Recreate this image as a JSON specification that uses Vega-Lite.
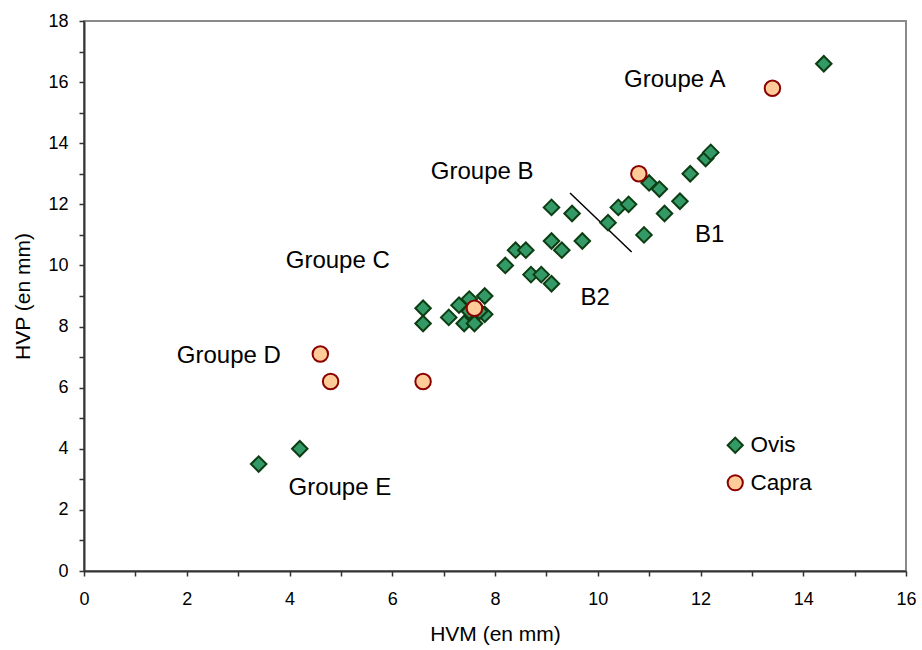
{
  "$schema": "https://vega.github.io/schema/vega-lite/v6.json",
  "width": 822,
  "height": 550,
  "autosize": "none",
  "padding": {"left": 84, "top": 21, "right": 16, "bottom": 79},
  "background": "white",
  "config": {
    "view": {"stroke": "#8a8a8a", "strokeWidth": 2},
    "font": "Liberation Sans"
  },
  "datasets": {
    "points": [
      {"species": "Ovis", "hvm": 3.4, "hvp": 3.5},
      {"species": "Ovis", "hvm": 4.2, "hvp": 4.0},
      {"species": "Ovis", "hvm": 6.6, "hvp": 8.6},
      {"species": "Ovis", "hvm": 6.6, "hvp": 8.1},
      {"species": "Ovis", "hvm": 7.1, "hvp": 8.3},
      {"species": "Ovis", "hvm": 7.3, "hvp": 8.7},
      {"species": "Ovis", "hvm": 7.5, "hvp": 8.9},
      {"species": "Ovis", "hvm": 7.8, "hvp": 9.0},
      {"species": "Ovis", "hvm": 7.4, "hvp": 8.1},
      {"species": "Ovis", "hvm": 7.6, "hvp": 8.1},
      {"species": "Ovis", "hvm": 7.8, "hvp": 8.4},
      {"species": "Ovis", "hvm": 7.5, "hvp": 8.5},
      {"species": "Ovis", "hvm": 7.7, "hvp": 8.5},
      {"species": "Ovis", "hvm": 8.2, "hvp": 10.0},
      {"species": "Ovis", "hvm": 8.4, "hvp": 10.5},
      {"species": "Ovis", "hvm": 8.6, "hvp": 10.5},
      {"species": "Ovis", "hvm": 8.7, "hvp": 9.7},
      {"species": "Ovis", "hvm": 8.9, "hvp": 9.7},
      {"species": "Ovis", "hvm": 9.1, "hvp": 9.4},
      {"species": "Ovis", "hvm": 9.1, "hvp": 10.8},
      {"species": "Ovis", "hvm": 9.3, "hvp": 10.5},
      {"species": "Ovis", "hvm": 9.7, "hvp": 10.8},
      {"species": "Ovis", "hvm": 9.1, "hvp": 11.9},
      {"species": "Ovis", "hvm": 9.5, "hvp": 11.7},
      {"species": "Ovis", "hvm": 10.2, "hvp": 11.4},
      {"species": "Ovis", "hvm": 10.4, "hvp": 11.9},
      {"species": "Ovis", "hvm": 10.6, "hvp": 12.0},
      {"species": "Ovis", "hvm": 10.9, "hvp": 11.0},
      {"species": "Ovis", "hvm": 11.0, "hvp": 12.7},
      {"species": "Ovis", "hvm": 11.2, "hvp": 12.5},
      {"species": "Ovis", "hvm": 11.3, "hvp": 11.7},
      {"species": "Ovis", "hvm": 11.6, "hvp": 12.1},
      {"species": "Ovis", "hvm": 11.8, "hvp": 13.0},
      {"species": "Ovis", "hvm": 12.1, "hvp": 13.5},
      {"species": "Ovis", "hvm": 12.2, "hvp": 13.7},
      {"species": "Ovis", "hvm": 14.4, "hvp": 16.6},
      {"species": "Capra", "hvm": 4.6, "hvp": 7.1},
      {"species": "Capra", "hvm": 4.8, "hvp": 6.2},
      {"species": "Capra", "hvm": 6.6, "hvp": 6.2},
      {"species": "Capra", "hvm": 7.6, "hvp": 8.6},
      {"species": "Capra", "hvm": 10.8, "hvp": 13.0},
      {"species": "Capra", "hvm": 13.4, "hvp": 15.8}
    ],
    "divider": [
      {"hvm": 9.46, "hvp": 12.37},
      {"hvm": 10.66, "hvp": 10.44}
    ],
    "labels": [
      {"text": "Groupe A", "hvm": 11.5, "hvp": 15.84},
      {"text": "Groupe B", "hvm": 7.75, "hvp": 12.83},
      {"text": "Groupe C", "hvm": 4.94, "hvp": 9.92},
      {"text": "Groupe D", "hvm": 2.82, "hvp": 6.81},
      {"text": "Groupe E", "hvm": 4.98, "hvp": 2.49},
      {"text": "B1", "hvm": 12.18, "hvp": 10.77},
      {"text": "B2", "hvm": 9.95, "hvp": 8.71}
    ]
  },
  "encoding": {
    "x": {
      "field": "hvm",
      "type": "quantitative",
      "scale": {"domain": [0, 16], "nice": false, "zero": false},
      "axis": {
        "title": "HVM (en mm)",
        "values": [0, 1, 2, 3, 4, 5, 6, 7, 8, 9, 10, 11, 12, 13, 14, 15, 16],
        "labelExpr": "datum.value % 2 ? '' : datum.label",
        "grid": false,
        "domainColor": "#333333",
        "domainWidth": 2,
        "tickColor": "#333333",
        "tickWidth": 1.5,
        "tickSize": 5,
        "labelFontSize": 18,
        "labelPadding": 14,
        "labelColor": "black",
        "labelOverlap": false,
        "labelFlush": false,
        "titleFontSize": 21,
        "titleFontWeight": "normal",
        "titleColor": "black",
        "titlePadding": 15
      }
    },
    "y": {
      "field": "hvp",
      "type": "quantitative",
      "scale": {"domain": [0, 18], "nice": false, "zero": false},
      "axis": {
        "title": "HVP (en mm)",
        "values": [0, 1, 2, 3, 4, 5, 6, 7, 8, 9, 10, 11, 12, 13, 14, 15, 16, 17, 18],
        "labelExpr": "datum.value % 2 ? '' : datum.label",
        "grid": false,
        "domainColor": "#333333",
        "domainWidth": 2,
        "tickColor": "#333333",
        "tickWidth": 1.5,
        "tickSize": 5,
        "labelFontSize": 18,
        "labelPadding": 11,
        "labelColor": "black",
        "labelOverlap": false,
        "labelFlush": false,
        "titleFontSize": 21,
        "titleFontWeight": "normal",
        "titleColor": "black",
        "titlePadding": 14
      }
    }
  },
  "layer": [
    {
      "data": {"name": "divider"},
      "mark": {"type": "line", "color": "black", "strokeWidth": 1.5},
      "encoding": {}
    },
    {
      "data": {"name": "points"},
      "mark": {"type": "point", "filled": true, "opacity": 1, "strokeWidth": 2, "size": 240},
      "encoding": {
        "fill": {
          "field": "species", "type": "nominal",
          "scale": {"domain": ["Ovis", "Capra"], "range": ["#339966", "#ffcc99"]},
          "legend": {"title": null, "orient": "none", "legendX": 640, "legendY": 413, "labelFontSize": 22.5, "labelColor": "black", "symbolSize": 230, "symbolStrokeWidth": 2, "rowPadding": 13.5, "labelOffset": 4, "padding": 0, "symbolOpacity": 1}
        },
        "stroke": {
          "field": "species", "type": "nominal",
          "scale": {"domain": ["Ovis", "Capra"], "range": ["#0d3d12", "#8b0000"]},
          "legend": {"title": null, "orient": "none", "legendX": 640, "legendY": 413, "labelFontSize": 22.5, "labelColor": "black", "symbolSize": 230, "symbolStrokeWidth": 2, "rowPadding": 13.5, "labelOffset": 4, "padding": 0, "symbolOpacity": 1}
        },
        "shape": {
          "field": "species", "type": "nominal",
          "scale": {"domain": ["Ovis", "Capra"], "range": ["diamond", "circle"]},
          "legend": {"title": null, "orient": "none", "legendX": 640, "legendY": 413, "labelFontSize": 22.5, "labelColor": "black", "symbolSize": 230, "symbolStrokeWidth": 2, "rowPadding": 13.5, "labelOffset": 4, "padding": 0, "symbolOpacity": 1}
        }
      }
    },
    {
      "data": {"name": "labels"},
      "mark": {"type": "text", "fontSize": 24, "align": "center", "baseline": "alphabetic", "color": "black"},
      "encoding": {"text": {"field": "text"}}
    }
  ]
}
